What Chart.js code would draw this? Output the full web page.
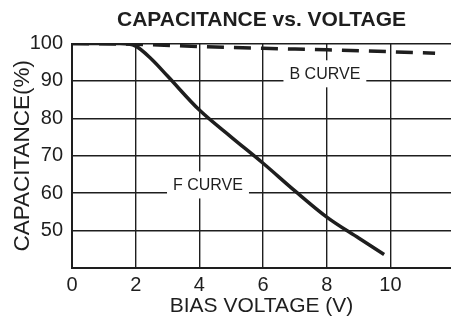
<!DOCTYPE html>
<html>
<head>
<meta charset="utf-8">
<script src="https://cdn.jsdelivr.net/npm/chart.js@4.4.1/dist/chart.umd.min.js"></script>
<style>
  html, body { margin: 0; padding: 0; background: #fff; }
  #wrap { width: 451px; height: 320px; }
</style>
</head>
<body>
<div id="wrap"><canvas id="cv"></canvas></div>
<script>
// F curve: bias voltage (V) vs remaining capacitance (%)
const fVolts = [0, 1, 1.5, 2, 2.5, 3, 4, 5, 6, 7, 8, 9, 9.8];
const fCap = [100, 100, 100, 99.3, 95.8, 91.3, 82.2, 75, 68, 60.6, 53.6, 48, 43.6];

// B curve
const bVolts = [0, 2, 4, 6, 8, 10, 11.4];
const bCap = [100, 99.8, 99.2, 98.7, 98.3, 97.8, 97.4];

const xTicks = [0, 2, 4, 6, 8, 10];
const yTicks = [50, 60, 70, 80, 90, 100];
const curveNames = ['F CURVE', 'B CURVE'];

const FONT = '"Liberation Sans", Arial, sans-serif';
const INK = '#1e1e1e';

function toPoints(xs, ys) {
  return xs.map((v, i) => ({ x: v, y: ys[i] }));
}

// white-backed curve names sitting on the grid
const curveTags = {
  id: 'curveTags',
  beforeDatasetsDraw(chart, args, opts) {
    const { ctx, scales: { x, y } } = chart;
    ctx.save();
    ctx.font = '16px ' + FONT;
    ctx.textAlign = 'center';
    ctx.textBaseline = 'middle';
    opts.tags.forEach(tag => {
      const cx = x.getPixelForValue(tag.x);
      const cy = y.getPixelForValue(tag.y);
      const w = ctx.measureText(tag.text).width + 12;
      const h = 27;
      ctx.fillStyle = '#fff';
      ctx.fillRect(cx - w / 2, cy - h / 2, w, h);
      ctx.fillStyle = INK;
      ctx.fillText(tag.text, cx, cy + 1);
    });
    ctx.restore();
  }
};

new Chart(document.getElementById('cv'), {
  type: 'line',
  data: {
    datasets: [
      {
        label: curveNames[0],
        data: toPoints(fVolts, fCap),
        borderColor: INK,
        borderWidth: 3.5,
        cubicInterpolationMode: 'monotone',
        pointRadius: 0,
        fill: false,
      },
      {
        label: curveNames[1],
        data: toPoints(bVolts, bCap),
        borderColor: INK,
        borderWidth: 3.5,
        borderDash: [17, 10],
        borderCapStyle: 'butt',
        cubicInterpolationMode: 'monotone',
        pointRadius: 0,
        fill: false,
      },
    ],
  },
  options: {
    responsive: true,
    maintainAspectRatio: false,
    animation: false,
    layout: { padding: 0 },
    plugins: {
      legend: { display: false },
      tooltip: { enabled: false },
      curveTags: {
        tags: [
          { text: curveNames[0], x: 4.27, y: 62.2 },
          { text: curveNames[1], x: 7.94, y: 91.9 },
        ],
      },
    },
    scales: {
      // top axis only carries the heading, so it centres over the plot
      head: {
        type: 'linear',
        position: 'top',
        min: 0,
        max: 11.9,
        afterFit(scale) { scale.height = 43.5; },
        grid: { display: false, drawTicks: false },
        border: { display: false },
        ticks: { display: false },
        title: {
          display: true,
          text: 'CAPACITANCE vs. VOLTAGE',
          color: INK,
          font: { family: FONT, size: 21, weight: 'bold', lineHeight: 1.2 },
          padding: { top: 7.5, bottom: 0 },
        },
      },
      x: {
        type: 'linear',
        min: 0,
        max: 11.9,
        afterFit(scale) { scale.height = 52; },
        grid: { color: INK, lineWidth: 1.4, drawTicks: false },
        border: { color: INK, width: 2 },
        ticks: {
          stepSize: 2,
          includeBounds: false,
          autoSkip: false,
          maxRotation: 0,
          padding: 5,
          color: INK,
          font: { family: FONT, size: 20 },
          callback: v => (xTicks.includes(v) ? String(v) : ''),
        },
        title: {
          display: true,
          text: 'BIAS VOLTAGE (V)',
          color: INK,
          font: { family: FONT, size: 21, lineHeight: 1.2 },
          padding: { top: 0, bottom: 1.5 },
        },
      },
      y: {
        min: 40,
        max: 100,
        afterFit(scale) { scale.width = 72; },
        grid: { color: INK, lineWidth: 1.4, drawTicks: false },
        border: { color: INK, width: 2 },
        ticks: {
          stepSize: 10,
          padding: 9,
          color: INK,
          font: { family: FONT, size: 20 },
          callback: v => (yTicks.includes(v) ? String(v) : ''),
        },
        title: {
          display: true,
          text: 'CAPACITANCE(%)',
          color: INK,
          font: { family: FONT, size: 22.5, lineHeight: 1.2 },
          padding: { top: 9, bottom: 0 },
        },
      },
    },
  },
  plugins: [curveTags],
});
</script>
</body>
</html>
